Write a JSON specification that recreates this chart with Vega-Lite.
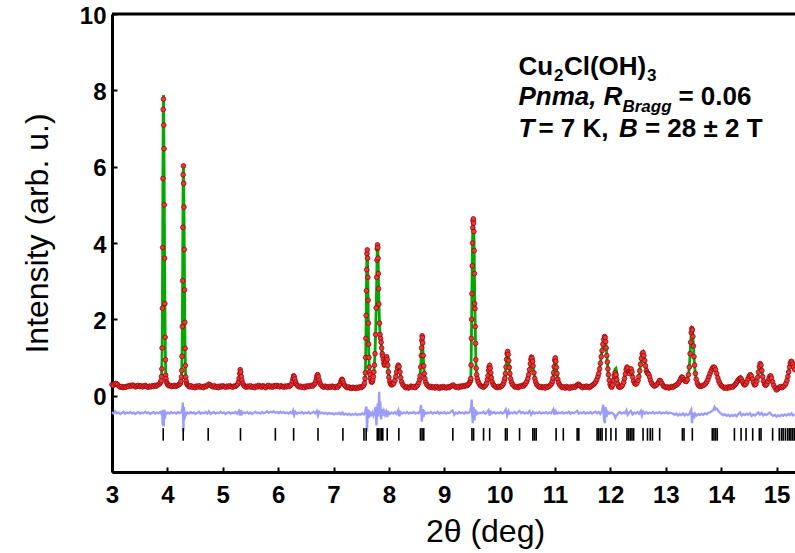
{
"$schema":"https://vega.github.io/schema/vega-lite/v6.json",
"width":683,"height":458,
"autosize":{"type":"none"},
"padding":{"left":112,"top":14,"right":0,"bottom":81},
"background":"white",
"config":{"view":{"stroke":null},"font":"Liberation Sans"},
"datasets":{
"obs":[
{"x":3.000,"o":0.29,"c":0.27},{"x":3.025,"o":0.27,"c":0.27},{"x":3.050,"o":0.31,"c":0.28},{"x":3.075,"o":0.32,"c":0.28},{"x":3.100,"o":0.29,"c":0.28},{"x":3.125,"o":0.25,"c":0.27},{"x":3.150,"o":0.22,"c":0.26},{"x":3.175,"o":0.24,"c":0.25},{"x":3.200,"o":0.21,"c":0.25},{"x":3.225,"o":0.23,"c":0.25},{"x":3.250,"o":0.22,"c":0.25},{"x":3.275,"o":0.25,"c":0.25},{"x":3.300,"o":0.24,"c":0.25},{"x":3.325,"o":0.27,"c":0.25},{"x":3.350,"o":0.25,"c":0.25},{"x":3.375,"o":0.28,"c":0.25},{"x":3.400,"o":0.26,"c":0.25},{"x":3.425,"o":0.23,"c":0.25},{"x":3.450,"o":0.25,"c":0.25},{"x":3.475,"o":0.27,"c":0.25},{"x":3.500,"o":0.24,"c":0.25},{"x":3.525,"o":0.26,"c":0.25},{"x":3.550,"o":0.23,"c":0.25},{"x":3.575,"o":0.25,"c":0.25},{"x":3.600,"o":0.27,"c":0.25},{"x":3.625,"o":0.24,"c":0.25},{"x":3.650,"o":0.22,"c":0.25},{"x":3.675,"o":0.25,"c":0.25},{"x":3.700,"o":0.23,"c":0.25},{"x":3.725,"o":0.26,"c":0.25},{"x":3.750,"o":0.24,"c":0.25},{"x":3.775,"o":0.27,"c":0.26},{"x":3.800,"o":0.25,"c":0.26},{"x":3.825,"o":0.28,"c":0.27},{"x":3.850,"o":0.30,"c":0.29},{"x":3.870,"o":0.33,"c":0.32},{"x":3.880,"o":0.36,"c":0.36},{"x":3.890,"o":0.40,"c":0.42},{"x":3.895,"o":0.50,"c":0.55},{"x":3.900,"o":0.70,"c":0.75},{"x":3.905,"o":1.25,"c":1.15},{"x":3.910,"o":2.29,"c":2.10},{"x":3.915,"o":3.88,"c":3.80},{"x":3.920,"o":5.69,"c":5.80},{"x":3.925,"o":7.50,"c":7.50},{"x":3.930,"o":7.77,"c":7.88},{"x":3.935,"o":7.09,"c":7.30},{"x":3.940,"o":6.47,"c":6.20},{"x":3.945,"o":5.00,"c":4.90},{"x":3.950,"o":3.60,"c":3.60},{"x":3.955,"o":2.41,"c":2.50},{"x":3.960,"o":1.53,"c":1.60},{"x":3.965,"o":0.94,"c":1.00},{"x":3.970,"o":0.54,"c":0.62},{"x":3.975,"o":0.45,"c":0.45},{"x":3.985,"o":0.36,"c":0.36},{"x":3.995,"o":0.32,"c":0.32},
{"x":4.010,"o":0.28,"c":0.29},{"x":4.030,"o":0.26,"c":0.27},{"x":4.050,"o":0.27,"c":0.26},{"x":4.075,"o":0.24,"c":0.26},{"x":4.100,"o":0.25,"c":0.26},{"x":4.125,"o":0.27,"c":0.26},{"x":4.150,"o":0.24,"c":0.26},{"x":4.175,"o":0.26,"c":0.26},{"x":4.200,"o":0.28,"c":0.27},{"x":4.220,"o":0.30,"c":0.29},{"x":4.235,"o":0.33,"c":0.32},{"x":4.245,"o":0.38,"c":0.37},{"x":4.255,"o":0.49,"c":0.48},{"x":4.260,"o":0.66,"c":0.70},{"x":4.265,"o":1.03,"c":1.10},{"x":4.270,"o":1.81,"c":1.80},{"x":4.275,"o":3.01,"c":3.00},{"x":4.280,"o":4.41,"c":4.40},{"x":4.285,"o":5.79,"c":5.70},{"x":4.290,"o":6.02,"c":6.04},{"x":4.295,"o":5.56,"c":5.60},{"x":4.300,"o":4.94,"c":4.90},{"x":4.305,"o":3.83,"c":3.90},{"x":4.310,"o":2.77,"c":2.80},{"x":4.315,"o":1.92,"c":1.90},{"x":4.320,"o":1.24,"c":1.20},{"x":4.325,"o":0.79,"c":0.80},{"x":4.330,"o":0.49,"c":0.55},{"x":4.340,"o":0.38,"c":0.40},{"x":4.350,"o":0.31,"c":0.33},{"x":4.365,"o":0.28,"c":0.29},{"x":4.385,"o":0.25,"c":0.27},
{"x":4.400,"o":0.23,"c":0.25},{"x":4.425,"o":0.26,"c":0.25},{"x":4.450,"o":0.22,"c":0.24},{"x":4.475,"o":0.24,"c":0.24},{"x":4.500,"o":0.21,"c":0.24},{"x":4.525,"o":0.25,"c":0.24},{"x":4.550,"o":0.23,"c":0.24},{"x":4.575,"o":0.26,"c":0.24},{"x":4.600,"o":0.22,"c":0.24},{"x":4.625,"o":0.24,"c":0.24},{"x":4.650,"o":0.21,"c":0.24},{"x":4.675,"o":0.25,"c":0.24},{"x":4.700,"o":0.24,"c":0.25},{"x":4.725,"o":0.27,"c":0.26},{"x":4.750,"o":0.30,"c":0.28},{"x":4.775,"o":0.28,"c":0.27},{"x":4.800,"o":0.25,"c":0.25},{"x":4.825,"o":0.23,"c":0.24},{"x":4.850,"o":0.26,"c":0.24},{"x":4.875,"o":0.22,"c":0.24},{"x":4.900,"o":0.24,"c":0.24},{"x":4.925,"o":0.21,"c":0.24},{"x":4.950,"o":0.25,"c":0.24},{"x":4.975,"o":0.23,"c":0.24},{"x":5.000,"o":0.26,"c":0.24},{"x":5.025,"o":0.24,"c":0.24},{"x":5.050,"o":0.22,"c":0.24},{"x":5.075,"o":0.25,"c":0.24},{"x":5.100,"o":0.23,"c":0.24},{"x":5.125,"o":0.26,"c":0.24},{"x":5.150,"o":0.24,"c":0.24},{"x":5.175,"o":0.22,"c":0.24},{"x":5.200,"o":0.25,"c":0.24},{"x":5.225,"o":0.24,"c":0.25},{"x":5.250,"o":0.27,"c":0.26},{"x":5.270,"o":0.30,"c":0.29},{"x":5.285,"o":0.36,"c":0.35},{"x":5.295,"o":0.45,"c":0.44},{"x":5.305,"o":0.58,"c":0.56},{"x":5.315,"o":0.68,"c":0.66},{"x":5.325,"o":0.62,"c":0.62},{"x":5.335,"o":0.50,"c":0.50},{"x":5.345,"o":0.40,"c":0.40},{"x":5.360,"o":0.32,"c":0.32},{"x":5.380,"o":0.27,"c":0.27},
{"x":5.400,"o":0.24,"c":0.25},{"x":5.425,"o":0.22,"c":0.24},{"x":5.450,"o":0.25,"c":0.24},{"x":5.475,"o":0.23,"c":0.24},{"x":5.500,"o":0.26,"c":0.24},{"x":5.525,"o":0.22,"c":0.24},{"x":5.550,"o":0.24,"c":0.24},{"x":5.575,"o":0.21,"c":0.24},{"x":5.600,"o":0.25,"c":0.24},{"x":5.625,"o":0.23,"c":0.24},{"x":5.650,"o":0.27,"c":0.24},{"x":5.675,"o":0.24,"c":0.24},{"x":5.700,"o":0.22,"c":0.24},{"x":5.725,"o":0.26,"c":0.24},{"x":5.750,"o":0.24,"c":0.24},{"x":5.775,"o":0.21,"c":0.24},{"x":5.800,"o":0.25,"c":0.24},{"x":5.825,"o":0.27,"c":0.24},{"x":5.850,"o":0.23,"c":0.24},{"x":5.875,"o":0.25,"c":0.24},{"x":5.900,"o":0.22,"c":0.24},{"x":5.925,"o":0.26,"c":0.24},{"x":5.950,"o":0.24,"c":0.24},{"x":5.975,"o":0.27,"c":0.25},{"x":6.000,"o":0.25,"c":0.25},{"x":6.025,"o":0.23,"c":0.24},{"x":6.050,"o":0.26,"c":0.24},{"x":6.075,"o":0.24,"c":0.24},{"x":6.100,"o":0.22,"c":0.24},{"x":6.125,"o":0.25,"c":0.24},{"x":6.150,"o":0.23,"c":0.24},{"x":6.175,"o":0.26,"c":0.24},{"x":6.200,"o":0.24,"c":0.25},{"x":6.225,"o":0.27,"c":0.27},{"x":6.245,"o":0.31,"c":0.31},{"x":6.260,"o":0.38,"c":0.38},{"x":6.270,"o":0.45,"c":0.45},{"x":6.280,"o":0.52,"c":0.52},{"x":6.290,"o":0.50,"c":0.51},{"x":6.300,"o":0.44,"c":0.44},{"x":6.315,"o":0.36,"c":0.36},{"x":6.330,"o":0.30,"c":0.30},{"x":6.350,"o":0.26,"c":0.27},{"x":6.375,"o":0.23,"c":0.25},
{"x":6.400,"o":0.25,"c":0.24},{"x":6.425,"o":0.22,"c":0.24},{"x":6.450,"o":0.24,"c":0.24},{"x":6.475,"o":0.21,"c":0.24},{"x":6.500,"o":0.25,"c":0.24},{"x":6.525,"o":0.23,"c":0.24},{"x":6.550,"o":0.26,"c":0.24},{"x":6.575,"o":0.24,"c":0.25},{"x":6.600,"o":0.27,"c":0.25},{"x":6.625,"o":0.25,"c":0.26},{"x":6.650,"o":0.29,"c":0.28},{"x":6.670,"o":0.33,"c":0.32},{"x":6.685,"o":0.40,"c":0.40},{"x":6.695,"o":0.47,"c":0.47},{"x":6.705,"o":0.53,"c":0.53},{"x":6.715,"o":0.55,"c":0.55},{"x":6.725,"o":0.50,"c":0.50},{"x":6.740,"o":0.41,"c":0.41},{"x":6.755,"o":0.33,"c":0.34},{"x":6.775,"o":0.28,"c":0.29},{"x":6.800,"o":0.24,"c":0.26},{"x":6.825,"o":0.22,"c":0.25},{"x":6.850,"o":0.25,"c":0.24},{"x":6.875,"o":0.23,"c":0.24},{"x":6.900,"o":0.21,"c":0.24},{"x":6.925,"o":0.24,"c":0.24},{"x":6.950,"o":0.22,"c":0.24},{"x":6.975,"o":0.25,"c":0.24},{"x":7.000,"o":0.23,"c":0.24},{"x":7.025,"o":0.21,"c":0.24},{"x":7.050,"o":0.24,"c":0.24},{"x":7.075,"o":0.22,"c":0.25},{"x":7.100,"o":0.27,"c":0.27},{"x":7.120,"o":0.31,"c":0.31},{"x":7.135,"o":0.37,"c":0.37},{"x":7.145,"o":0.41,"c":0.41},{"x":7.155,"o":0.43,"c":0.43},{"x":7.165,"o":0.40,"c":0.40},{"x":7.180,"o":0.33,"c":0.33},{"x":7.200,"o":0.27,"c":0.28},{"x":7.225,"o":0.23,"c":0.25},{"x":7.250,"o":0.21,"c":0.24},{"x":7.275,"o":0.23,"c":0.23},{"x":7.300,"o":0.20,"c":0.23},{"x":7.325,"o":0.19,"c":0.22},{"x":7.350,"o":0.22,"c":0.22},{"x":7.375,"o":0.20,"c":0.22},{"x":7.400,"o":0.19,"c":0.22},{"x":7.425,"o":0.22,"c":0.22},{"x":7.450,"o":0.20,"c":0.22},{"x":7.475,"o":0.23,"c":0.22},{"x":7.500,"o":0.21,"c":0.23},{"x":7.525,"o":0.24,"c":0.24},{"x":7.545,"o":0.27,"c":0.27},{"x":7.560,"o":0.33,"c":0.33},{"x":7.570,"o":0.45,"c":0.45},{"x":7.575,"o":0.60,"c":0.62},{"x":7.580,"o":1.00,"c":0.95},{"x":7.585,"o":1.50,"c":1.45},{"x":7.590,"o":2.10,"c":2.10},{"x":7.595,"o":2.75,"c":2.80},{"x":7.600,"o":3.30,"c":3.40},{"x":7.605,"o":3.72,"c":3.78},{"x":7.610,"o":3.82,"c":3.84},{"x":7.615,"o":3.60,"c":3.60},{"x":7.620,"o":3.10,"c":3.10},{"x":7.625,"o":2.50,"c":2.45},{"x":7.630,"o":1.90,"c":1.85},{"x":7.635,"o":1.35,"c":1.35},{"x":7.640,"o":1.00,"c":0.95},{"x":7.645,"o":0.75,"c":0.72},{"x":7.650,"o":0.62,"c":0.60},{"x":7.660,"o":0.55,"c":0.52},{"x":7.670,"o":0.45,"c":0.45},{"x":7.680,"o":0.38,"c":0.40},{"x":7.690,"o":0.35,"c":0.38},{"x":7.700,"o":0.37,"c":0.40},{"x":7.710,"o":0.42,"c":0.44},{"x":7.720,"o":0.50,"c":0.52},{"x":7.730,"o":0.62,"c":0.65},{"x":7.740,"o":0.80,"c":0.85},{"x":7.750,"o":1.10,"c":1.15},{"x":7.760,"o":1.60,"c":1.60},{"x":7.770,"o":2.30,"c":2.25},{"x":7.780,"o":3.10,"c":3.00},{"x":7.785,"o":3.55,"c":3.50},{"x":7.790,"o":3.85,"c":3.85},{"x":7.795,"o":3.95,"c":3.97},{"x":7.800,"o":3.88,"c":3.90},{"x":7.805,"o":3.60,"c":3.65},{"x":7.810,"o":3.20,"c":3.25},{"x":7.815,"o":2.80,"c":2.85},{"x":7.820,"o":2.40,"c":2.45},{"x":7.830,"o":1.90,"c":1.95},{"x":7.840,"o":1.60,"c":1.60},{"x":7.850,"o":1.50,"c":1.45},{"x":7.860,"o":1.40,"c":1.35},{"x":7.870,"o":1.25,"c":1.25},{"x":7.880,"o":1.10,"c":1.10},{"x":7.890,"o":1.03,"c":1.00},{"x":7.900,"o":0.95,"c":0.92},{"x":7.910,"o":0.85,"c":0.86},{"x":7.920,"o":0.80,"c":0.82},{"x":7.930,"o":0.82,"c":0.85},{"x":7.940,"o":0.90,"c":0.92},{"x":7.950,"o":0.97,"c":0.98},{"x":7.960,"o":1.02,"c":1.00},{"x":7.970,"o":0.95,"c":0.95},{"x":7.980,"o":0.80,"c":0.80},{"x":7.990,"o":0.62,"c":0.62},{"x":8.000,"o":0.48,"c":0.48},{"x":8.015,"o":0.37,"c":0.38},{"x":8.030,"o":0.31,"c":0.32},{"x":8.050,"o":0.28,"c":0.29},{"x":8.070,"o":0.30,"c":0.30},{"x":8.090,"o":0.33,"c":0.33},{"x":8.110,"o":0.40,"c":0.40},{"x":8.125,"o":0.50,"c":0.50},{"x":8.140,"o":0.62,"c":0.63},{"x":8.155,"o":0.74,"c":0.74},{"x":8.170,"o":0.80,"c":0.80},{"x":8.185,"o":0.76,"c":0.77},{"x":8.200,"o":0.62,"c":0.63},{"x":8.215,"o":0.47,"c":0.48},{"x":8.230,"o":0.36,"c":0.37},{"x":8.250,"o":0.29,"c":0.30},{"x":8.275,"o":0.25,"c":0.26},
{"x":8.300,"o":0.21,"c":0.24},{"x":8.325,"o":0.23,"c":0.23},{"x":8.350,"o":0.20,"c":0.23},{"x":8.375,"o":0.22,"c":0.23},{"x":8.400,"o":0.25,"c":0.23},{"x":8.425,"o":0.22,"c":0.23},{"x":8.450,"o":0.24,"c":0.23},{"x":8.475,"o":0.21,"c":0.24},{"x":8.500,"o":0.25,"c":0.25},{"x":8.520,"o":0.28,"c":0.28},{"x":8.540,"o":0.34,"c":0.34},{"x":8.555,"o":0.42,"c":0.43},{"x":8.565,"o":0.52,"c":0.55},{"x":8.575,"o":0.75,"c":0.75},{"x":8.585,"o":1.05,"c":1.05},{"x":8.590,"o":1.25,"c":1.25},{"x":8.595,"o":1.45,"c":1.45},{"x":8.600,"o":1.57,"c":1.56},{"x":8.605,"o":1.52,"c":1.52},{"x":8.610,"o":1.38,"c":1.38},{"x":8.620,"o":1.05,"c":1.05},{"x":8.630,"o":0.78,"c":0.78},{"x":8.640,"o":0.58,"c":0.57},{"x":8.650,"o":0.45,"c":0.44},{"x":8.665,"o":0.35,"c":0.35},{"x":8.685,"o":0.29,"c":0.29},{"x":8.710,"o":0.25,"c":0.26},{"x":8.735,"o":0.22,"c":0.24},{"x":8.760,"o":0.24,"c":0.23},{"x":8.785,"o":0.21,"c":0.23},{"x":8.810,"o":0.23,"c":0.23},{"x":8.835,"o":0.20,"c":0.23},{"x":8.860,"o":0.24,"c":0.23},{"x":8.885,"o":0.22,"c":0.23},{"x":8.910,"o":0.19,"c":0.23},{"x":8.935,"o":0.23,"c":0.23},{"x":8.960,"o":0.21,"c":0.23},{"x":8.985,"o":0.24,"c":0.23},{"x":9.010,"o":0.22,"c":0.23},{"x":9.035,"o":0.20,"c":0.23},{"x":9.060,"o":0.23,"c":0.23},{"x":9.085,"o":0.21,"c":0.23},{"x":9.110,"o":0.24,"c":0.24},{"x":9.135,"o":0.26,"c":0.25},{"x":9.160,"o":0.28,"c":0.26},{"x":9.185,"o":0.25,"c":0.25},{"x":9.210,"o":0.22,"c":0.24},{"x":9.235,"o":0.24,"c":0.24},{"x":9.260,"o":0.21,"c":0.24},{"x":9.285,"o":0.25,"c":0.24},{"x":9.310,"o":0.23,"c":0.24},{"x":9.335,"o":0.26,"c":0.25},{"x":9.360,"o":0.24,"c":0.25},{"x":9.385,"o":0.27,"c":0.26},{"x":9.410,"o":0.26,"c":0.27},{"x":9.430,"o":0.29,"c":0.29},{"x":9.450,"o":0.32,"c":0.32},{"x":9.465,"o":0.36,"c":0.36},{"x":9.475,"o":0.40,"c":0.42},{"x":9.480,"o":0.45,"c":0.50},{"x":9.485,"o":0.80,"c":0.80},{"x":9.490,"o":1.50,"c":1.40},{"x":9.495,"o":2.00,"c":2.10},{"x":9.500,"o":2.67,"c":2.80},{"x":9.505,"o":3.40,"c":3.45},{"x":9.510,"o":4.00,"c":4.00},{"x":9.515,"o":4.40,"c":4.38},{"x":9.520,"o":4.58,"c":4.60},{"x":9.525,"o":4.63,"c":4.65},{"x":9.530,"o":4.52,"c":4.55},{"x":9.535,"o":4.30,"c":4.30},{"x":9.540,"o":3.80,"c":3.85},{"x":9.545,"o":3.20,"c":3.20},{"x":9.550,"o":2.41,"c":2.50},{"x":9.555,"o":2.28,"c":2.20},{"x":9.560,"o":1.81,"c":1.80},{"x":9.565,"o":1.37,"c":1.40},{"x":9.570,"o":0.94,"c":1.00},{"x":9.575,"o":0.72,"c":0.75},{"x":9.585,"o":0.55,"c":0.55},{"x":9.595,"o":0.45,"c":0.45},{"x":9.610,"o":0.37,"c":0.37},{"x":9.630,"o":0.31,"c":0.31},{"x":9.655,"o":0.26,"c":0.27},{"x":9.680,"o":0.24,"c":0.25},{"x":9.705,"o":0.22,"c":0.24},{"x":9.730,"o":0.25,"c":0.25},{"x":9.750,"o":0.28,"c":0.28},{"x":9.765,"o":0.33,"c":0.33},{"x":9.780,"o":0.42,"c":0.42},{"x":9.790,"o":0.52,"c":0.53},{"x":9.800,"o":0.66,"c":0.65},{"x":9.810,"o":0.75,"c":0.74},{"x":9.820,"o":0.79,"c":0.78},{"x":9.830,"o":0.72,"c":0.72},{"x":9.840,"o":0.60,"c":0.60},{"x":9.850,"o":0.47,"c":0.48},{"x":9.865,"o":0.36,"c":0.37},{"x":9.885,"o":0.29,"c":0.30},{"x":9.905,"o":0.26,"c":0.27},{"x":9.930,"o":0.23,"c":0.25},{"x":9.955,"o":0.21,"c":0.24},{"x":9.980,"o":0.24,"c":0.24},{"x":10.005,"o":0.22,"c":0.24},{"x":10.030,"o":0.25,"c":0.25},{"x":10.050,"o":0.27,"c":0.27},{"x":10.070,"o":0.32,"c":0.32},{"x":10.085,"o":0.39,"c":0.39},{"x":10.095,"o":0.46,"c":0.46},{"x":10.105,"o":0.58,"c":0.58},{"x":10.115,"o":0.75,"c":0.75},{"x":10.125,"o":0.95,"c":0.95},{"x":10.135,"o":1.10,"c":1.10},{"x":10.145,"o":1.16,"c":1.15},{"x":10.155,"o":1.08,"c":1.08},{"x":10.165,"o":0.92,"c":0.92},{"x":10.175,"o":0.74,"c":0.74},{"x":10.185,"o":0.58,"c":0.58},{"x":10.200,"o":0.44,"c":0.44},{"x":10.215,"o":0.35,"c":0.35},{"x":10.235,"o":0.29,"c":0.30},{"x":10.260,"o":0.25,"c":0.27},{"x":10.285,"o":0.22,"c":0.25},{"x":10.310,"o":0.24,"c":0.24},{"x":10.335,"o":0.21,"c":0.24},{"x":10.360,"o":0.25,"c":0.25},{"x":10.385,"o":0.24,"c":0.25},{"x":10.410,"o":0.27,"c":0.26},{"x":10.430,"o":0.25,"c":0.27},{"x":10.450,"o":0.29,"c":0.29},{"x":10.470,"o":0.32,"c":0.32},{"x":10.490,"o":0.37,"c":0.37},{"x":10.510,"o":0.45,"c":0.45},{"x":10.525,"o":0.55,"c":0.55},{"x":10.540,"o":0.68,"c":0.68},{"x":10.555,"o":0.84,"c":0.84},{"x":10.565,"o":0.95,"c":0.95},{"x":10.575,"o":1.01,"c":1.01},{"x":10.585,"o":0.98,"c":0.99},{"x":10.595,"o":0.90,"c":0.90},{"x":10.605,"o":0.78,"c":0.78},{"x":10.620,"o":0.60,"c":0.60},{"x":10.635,"o":0.45,"c":0.45},{"x":10.650,"o":0.36,"c":0.36},{"x":10.670,"o":0.29,"c":0.30},{"x":10.695,"o":0.25,"c":0.26},{"x":10.720,"o":0.22,"c":0.24},{"x":10.745,"o":0.24,"c":0.24},{"x":10.770,"o":0.21,"c":0.24},{"x":10.795,"o":0.23,"c":0.23},{"x":10.820,"o":0.20,"c":0.23},{"x":10.845,"o":0.24,"c":0.23},{"x":10.870,"o":0.22,"c":0.24},{"x":10.895,"o":0.25,"c":0.25},{"x":10.920,"o":0.28,"c":0.27},{"x":10.940,"o":0.32,"c":0.31},{"x":10.955,"o":0.38,"c":0.38},{"x":10.965,"o":0.46,"c":0.47},{"x":10.975,"o":0.60,"c":0.60},{"x":10.985,"o":0.76,"c":0.76},{"x":10.995,"o":0.93,"c":0.92},{"x":11.005,"o":0.99,"c":0.98},{"x":11.015,"o":0.90,"c":0.91},{"x":11.025,"o":0.74,"c":0.76},{"x":11.035,"o":0.58,"c":0.60},{"x":11.050,"o":0.43,"c":0.43},{"x":11.065,"o":0.34,"c":0.34},{"x":11.085,"o":0.28,"c":0.28},{"x":11.110,"o":0.24,"c":0.25},{"x":11.135,"o":0.21,"c":0.24},{"x":11.160,"o":0.23,"c":0.23},{"x":11.185,"o":0.20,"c":0.23},{"x":11.210,"o":0.24,"c":0.23},{"x":11.235,"o":0.22,"c":0.23},{"x":11.260,"o":0.19,"c":0.23},{"x":11.285,"o":0.23,"c":0.23},{"x":11.310,"o":0.21,"c":0.23},{"x":11.335,"o":0.24,"c":0.24},{"x":11.360,"o":0.22,"c":0.24},{"x":11.385,"o":0.26,"c":0.25},{"x":11.405,"o":0.28,"c":0.27},{"x":11.425,"o":0.30,"c":0.28},{"x":11.445,"o":0.27,"c":0.27},{"x":11.470,"o":0.24,"c":0.25},{"x":11.495,"o":0.21,"c":0.24},{"x":11.520,"o":0.24,"c":0.24},{"x":11.545,"o":0.22,"c":0.24},{"x":11.570,"o":0.25,"c":0.24},{"x":11.595,"o":0.23,"c":0.24},{"x":11.620,"o":0.21,"c":0.24},{"x":11.645,"o":0.24,"c":0.25},{"x":11.670,"o":0.27,"c":0.26},{"x":11.695,"o":0.29,"c":0.28},{"x":11.715,"o":0.32,"c":0.31},{"x":11.735,"o":0.36,"c":0.35},{"x":11.755,"o":0.42,"c":0.42},{"x":11.775,"o":0.50,"c":0.50},{"x":11.790,"o":0.58,"c":0.59},{"x":11.805,"o":0.70,"c":0.70},{"x":11.820,"o":0.85,"c":0.86},{"x":11.835,"o":1.02,"c":1.02},{"x":11.850,"o":1.18,"c":1.18},{"x":11.865,"o":1.35,"c":1.34},{"x":11.880,"o":1.47,"c":1.46},{"x":11.895,"o":1.55,"c":1.53},{"x":11.905,"o":1.52,"c":1.52},{"x":11.915,"o":1.42,"c":1.42},{"x":11.925,"o":1.25,"c":1.26},{"x":11.935,"o":1.05,"c":1.06},{"x":11.945,"o":0.88,"c":0.86},{"x":11.955,"o":0.70,"c":0.70},{"x":11.965,"o":0.55,"c":0.56},{"x":11.980,"o":0.40,"c":0.42},{"x":11.995,"o":0.30,"c":0.32},{"x":12.010,"o":0.24,"c":0.27},{"x":12.025,"o":0.22,"c":0.27},{"x":12.040,"o":0.28,"c":0.33},{"x":12.055,"o":0.40,"c":0.45},{"x":12.070,"o":0.52,"c":0.60},{"x":12.085,"o":0.60,"c":0.70},{"x":12.100,"o":0.55,"c":0.72},{"x":12.115,"o":0.42,"c":0.60},{"x":12.130,"o":0.30,"c":0.42},{"x":12.150,"o":0.23,"c":0.30},{"x":12.175,"o":0.22,"c":0.25},{"x":12.200,"o":0.24,"c":0.25},{"x":12.220,"o":0.28,"c":0.28},{"x":12.240,"o":0.35,"c":0.35},{"x":12.255,"o":0.45,"c":0.45},{"x":12.270,"o":0.57,"c":0.57},{"x":12.285,"o":0.68,"c":0.68},{"x":12.300,"o":0.75,"c":0.74},{"x":12.315,"o":0.72,"c":0.72},{"x":12.330,"o":0.62,"c":0.64},{"x":12.345,"o":0.58,"c":0.60},{"x":12.360,"o":0.65,"c":0.64},{"x":12.375,"o":0.70,"c":0.68},{"x":12.390,"o":0.62,"c":0.62},{"x":12.405,"o":0.48,"c":0.50},{"x":12.420,"o":0.38,"c":0.40},{"x":12.440,"o":0.32,"c":0.33},{"x":12.460,"o":0.30,"c":0.31},{"x":12.480,"o":0.33,"c":0.33},{"x":12.500,"o":0.40,"c":0.40},{"x":12.515,"o":0.50,"c":0.50},{"x":12.530,"o":0.65,"c":0.65},{"x":12.545,"o":0.82,"c":0.82},{"x":12.560,"o":0.98,"c":0.98},{"x":12.575,"o":1.10,"c":1.10},{"x":12.590,"o":1.13,"c":1.14},{"x":12.605,"o":1.05,"c":1.06},{"x":12.620,"o":0.92,"c":0.92},{"x":12.635,"o":0.78,"c":0.78},{"x":12.650,"o":0.66,"c":0.66},{"x":12.665,"o":0.60,"c":0.60},{"x":12.680,"o":0.58,"c":0.57},{"x":12.695,"o":0.55,"c":0.53},{"x":12.710,"o":0.48,"c":0.48},{"x":12.725,"o":0.40,"c":0.41},{"x":12.745,"o":0.33,"c":0.34},{"x":12.770,"o":0.28,"c":0.29},{"x":12.795,"o":0.25,"c":0.27},{"x":12.820,"o":0.27,"c":0.27},{"x":12.845,"o":0.30,"c":0.30},{"x":12.870,"o":0.35,"c":0.34},{"x":12.890,"o":0.40,"c":0.38},{"x":12.910,"o":0.38,"c":0.37},{"x":12.930,"o":0.32,"c":0.32},{"x":12.955,"o":0.26,"c":0.27},{"x":12.980,"o":0.23,"c":0.25},{"x":13.005,"o":0.21,"c":0.24},{"x":13.030,"o":0.23,"c":0.23},{"x":13.055,"o":0.20,"c":0.23},{"x":13.080,"o":0.22,"c":0.23},{"x":13.105,"o":0.24,"c":0.24},{"x":13.130,"o":0.22,"c":0.24},{"x":13.155,"o":0.25,"c":0.25},{"x":13.180,"o":0.27,"c":0.26},{"x":13.205,"o":0.29,"c":0.28},{"x":13.230,"o":0.33,"c":0.32},{"x":13.250,"o":0.38,"c":0.37},{"x":13.270,"o":0.44,"c":0.43},{"x":13.290,"o":0.49,"c":0.48},{"x":13.310,"o":0.47,"c":0.47},{"x":13.330,"o":0.42,"c":0.42},{"x":13.350,"o":0.38,"c":0.38},{"x":13.370,"o":0.37,"c":0.37},{"x":13.390,"o":0.42,"c":0.42},{"x":13.410,"o":0.55,"c":0.55},{"x":13.425,"o":0.75,"c":0.75},{"x":13.440,"o":1.10,"c":1.10},{"x":13.450,"o":1.40,"c":1.40},{"x":13.460,"o":1.65,"c":1.62},{"x":13.470,"o":1.76,"c":1.75},{"x":13.480,"o":1.72,"c":1.72},{"x":13.490,"o":1.55,"c":1.55},{"x":13.500,"o":1.30,"c":1.30},{"x":13.510,"o":1.02,"c":1.02},{"x":13.520,"o":0.80,"c":0.80},{"x":13.535,"o":0.58,"c":0.58},{"x":13.550,"o":0.43,"c":0.43},{"x":13.570,"o":0.33,"c":0.34},{"x":13.590,"o":0.27,"c":0.28},{"x":13.615,"o":0.24,"c":0.26},{"x":13.640,"o":0.25,"c":0.26},{"x":13.665,"o":0.26,"c":0.27},{"x":13.690,"o":0.28,"c":0.28},{"x":13.715,"o":0.31,"c":0.31},{"x":13.740,"o":0.36,"c":0.36},{"x":13.760,"o":0.42,"c":0.42},{"x":13.780,"o":0.50,"c":0.50},{"x":13.800,"o":0.58,"c":0.58},{"x":13.820,"o":0.65,"c":0.65},{"x":13.840,"o":0.71,"c":0.71},{"x":13.860,"o":0.75,"c":0.75},{"x":13.880,"o":0.74,"c":0.74},{"x":13.900,"o":0.68,"c":0.69},{"x":13.920,"o":0.58,"c":0.60},{"x":13.940,"o":0.47,"c":0.49},{"x":13.960,"o":0.38,"c":0.40},{"x":13.980,"o":0.31,"c":0.33},{"x":14.005,"o":0.26,"c":0.27},{"x":14.030,"o":0.23,"c":0.24},{"x":14.055,"o":0.20,"c":0.23},{"x":14.080,"o":0.22,"c":0.23},{"x":14.105,"o":0.19,"c":0.23},{"x":14.130,"o":0.23,"c":0.23},{"x":14.155,"o":0.21,"c":0.23},{"x":14.180,"o":0.24,"c":0.24},{"x":14.205,"o":0.22,"c":0.24},{"x":14.230,"o":0.26,"c":0.26},{"x":14.255,"o":0.29,"c":0.29},{"x":14.275,"o":0.33,"c":0.33},{"x":14.295,"o":0.38,"c":0.38},{"x":14.315,"o":0.42,"c":0.43},{"x":14.335,"o":0.45,"c":0.48},{"x":14.350,"o":0.46,"c":0.50},{"x":14.365,"o":0.43,"c":0.47},{"x":14.385,"o":0.37,"c":0.40},{"x":14.405,"o":0.31,"c":0.33},{"x":14.425,"o":0.28,"c":0.30},{"x":14.445,"o":0.30,"c":0.31},{"x":14.465,"o":0.36,"c":0.36},{"x":14.485,"o":0.44,"c":0.44},{"x":14.505,"o":0.51,"c":0.51},{"x":14.525,"o":0.55,"c":0.55},{"x":14.545,"o":0.52,"c":0.52},{"x":14.565,"o":0.43,"c":0.43},{"x":14.585,"o":0.34,"c":0.35},{"x":14.605,"o":0.28,"c":0.30},{"x":14.625,"o":0.30,"c":0.31},{"x":14.645,"o":0.38,"c":0.38},{"x":14.660,"o":0.48,"c":0.48},{"x":14.675,"o":0.62,"c":0.62},{"x":14.690,"o":0.76,"c":0.76},{"x":14.705,"o":0.84,"c":0.83},{"x":14.720,"o":0.80,"c":0.80},{"x":14.735,"o":0.66,"c":0.66},{"x":14.750,"o":0.50,"c":0.51},{"x":14.765,"o":0.38,"c":0.40},{"x":14.785,"o":0.30,"c":0.31},{"x":14.805,"o":0.27,"c":0.28},{"x":14.825,"o":0.30,"c":0.30},{"x":14.845,"o":0.37,"c":0.37},{"x":14.865,"o":0.45,"c":0.45},{"x":14.880,"o":0.51,"c":0.51},{"x":14.895,"o":0.52,"c":0.52},{"x":14.910,"o":0.46,"c":0.46},{"x":14.930,"o":0.36,"c":0.36},{"x":14.950,"o":0.27,"c":0.28},{"x":14.975,"o":0.20,"c":0.23},{"x":15.000,"o":0.15,"c":0.21},{"x":15.025,"o":0.18,"c":0.21},{"x":15.050,"o":0.22,"c":0.22},{"x":15.075,"o":0.24,"c":0.23},{"x":15.100,"o":0.21,"c":0.23},{"x":15.125,"o":0.24,"c":0.24},{"x":15.150,"o":0.27,"c":0.27},{"x":15.170,"o":0.32,"c":0.32},{"x":15.190,"o":0.40,"c":0.40},{"x":15.205,"o":0.50,"c":0.50},{"x":15.220,"o":0.62,"c":0.62},{"x":15.235,"o":0.75,"c":0.75},{"x":15.250,"o":0.85,"c":0.85},{"x":15.265,"o":0.90,"c":0.90},{"x":15.280,"o":0.88,"c":0.88},{"x":15.295,"o":0.82,"c":0.82},{"x":15.310,"o":0.75,"c":0.75},{"x":15.330,"o":0.68,"c":0.68}
],
"diff":[
{"x":3.00,"d":-0.43},{"x":3.03,"d":-0.47},{"x":3.06,"d":-0.41},{"x":3.09,"d":-0.46},{"x":3.12,"d":-0.44},{"x":3.15,"d":-0.48},{"x":3.18,"d":-0.45},{"x":3.21,"d":-0.42},{"x":3.24,"d":-0.47},{"x":3.27,"d":-0.44},{"x":3.30,"d":-0.46},{"x":3.33,"d":-0.43},{"x":3.36,"d":-0.47},{"x":3.39,"d":-0.44},{"x":3.42,"d":-0.48},{"x":3.45,"d":-0.45},{"x":3.48,"d":-0.43},{"x":3.51,"d":-0.47},{"x":3.54,"d":-0.44},{"x":3.57,"d":-0.46},{"x":3.60,"d":-0.42},{"x":3.63,"d":-0.46},{"x":3.66,"d":-0.44},{"x":3.69,"d":-0.48},{"x":3.72,"d":-0.45},{"x":3.75,"d":-0.43},{"x":3.78,"d":-0.47},{"x":3.81,"d":-0.44},{"x":3.84,"d":-0.46},{"x":3.87,"d":-0.43},{"x":3.89,"d":-0.47},{"x":3.905,"d":-0.40},{"x":3.915,"d":-0.78},{"x":3.925,"d":-0.37},{"x":3.935,"d":-0.81},{"x":3.945,"d":-0.42},{"x":3.955,"d":-0.60},{"x":3.965,"d":-0.44},{"x":3.98,"d":-0.48},{"x":4.01,"d":-0.44},{"x":4.04,"d":-0.47},{"x":4.07,"d":-0.43},{"x":4.10,"d":-0.46},{"x":4.13,"d":-0.44},{"x":4.16,"d":-0.47},{"x":4.19,"d":-0.43},{"x":4.22,"d":-0.46},{"x":4.25,"d":-0.44},{"x":4.27,"d":-0.35},{"x":4.28,"d":-0.18},{"x":4.29,"d":-0.94},{"x":4.30,"d":-0.30},{"x":4.31,"d":-0.62},{"x":4.32,"d":-0.42},{"x":4.335,"d":-0.50},{"x":4.36,"d":-0.44},{"x":4.39,"d":-0.47},{"x":4.42,"d":-0.43},{"x":4.45,"d":-0.46},{"x":4.48,"d":-0.44},{"x":4.51,"d":-0.48},{"x":4.54,"d":-0.45},{"x":4.57,"d":-0.42},{"x":4.60,"d":-0.47},{"x":4.63,"d":-0.44},{"x":4.66,"d":-0.46},{"x":4.69,"d":-0.43},{"x":4.72,"d":-0.47},{"x":4.75,"d":-0.41},{"x":4.78,"d":-0.48},{"x":4.81,"d":-0.45},{"x":4.84,"d":-0.43},{"x":4.87,"d":-0.47},{"x":4.90,"d":-0.44},{"x":4.93,"d":-0.46},{"x":4.96,"d":-0.42},{"x":4.99,"d":-0.46},{"x":5.02,"d":-0.44},{"x":5.05,"d":-0.48},{"x":5.08,"d":-0.45},{"x":5.11,"d":-0.43},{"x":5.14,"d":-0.47},{"x":5.17,"d":-0.44},{"x":5.20,"d":-0.46},{"x":5.23,"d":-0.43},{"x":5.26,"d":-0.47},{"x":5.29,"d":-0.40},{"x":5.31,"d":-0.52},{"x":5.33,"d":-0.38},{"x":5.35,"d":-0.48},{"x":5.38,"d":-0.44},{"x":5.41,"d":-0.46},{"x":5.44,"d":-0.43},{"x":5.47,"d":-0.47},{"x":5.50,"d":-0.44},{"x":5.53,"d":-0.48},{"x":5.56,"d":-0.45},{"x":5.59,"d":-0.42},{"x":5.62,"d":-0.46},{"x":5.65,"d":-0.44},{"x":5.68,"d":-0.47},{"x":5.71,"d":-0.43},{"x":5.74,"d":-0.46},{"x":5.77,"d":-0.44},{"x":5.80,"d":-0.41},{"x":5.83,"d":-0.45},{"x":5.86,"d":-0.42},{"x":5.89,"d":-0.44},{"x":5.92,"d":-0.41},{"x":5.95,"d":-0.45},{"x":5.98,"d":-0.43},{"x":6.01,"d":-0.46},{"x":6.04,"d":-0.42},{"x":6.07,"d":-0.45},{"x":6.10,"d":-0.43},{"x":6.13,"d":-0.46},{"x":6.16,"d":-0.44},{"x":6.19,"d":-0.47},{"x":6.22,"d":-0.43},{"x":6.25,"d":-0.46},{"x":6.27,"d":-0.39},{"x":6.29,"d":-0.51},{"x":6.31,"d":-0.42},{"x":6.34,"d":-0.47},{"x":6.37,"d":-0.44},{"x":6.40,"d":-0.46},{"x":6.43,"d":-0.43},{"x":6.46,"d":-0.47},{"x":6.49,"d":-0.44},{"x":6.52,"d":-0.46},{"x":6.55,"d":-0.43},{"x":6.58,"d":-0.47},{"x":6.61,"d":-0.45},{"x":6.64,"d":-0.42},{"x":6.67,"d":-0.46},{"x":6.70,"d":-0.40},{"x":6.72,"d":-0.52},{"x":6.74,"d":-0.42},{"x":6.77,"d":-0.46},{"x":6.80,"d":-0.44},{"x":6.83,"d":-0.47},{"x":6.86,"d":-0.45},{"x":6.89,"d":-0.48},{"x":6.92,"d":-0.45},{"x":6.95,"d":-0.48},{"x":6.98,"d":-0.46},{"x":7.01,"d":-0.49},{"x":7.04,"d":-0.46},{"x":7.07,"d":-0.48},{"x":7.10,"d":-0.45},{"x":7.13,"d":-0.49},{"x":7.16,"d":-0.44},{"x":7.19,"d":-0.50},{"x":7.22,"d":-0.47},{"x":7.25,"d":-0.50},{"x":7.28,"d":-0.47},{"x":7.31,"d":-0.51},{"x":7.34,"d":-0.48},{"x":7.37,"d":-0.50},{"x":7.40,"d":-0.47},{"x":7.43,"d":-0.51},{"x":7.46,"d":-0.48},{"x":7.49,"d":-0.50},{"x":7.52,"d":-0.46},{"x":7.55,"d":-0.49},{"x":7.57,"d":-0.45},{"x":7.585,"d":-0.32},{"x":7.595,"d":-0.29},{"x":7.605,"d":-0.94},{"x":7.615,"d":-0.55},{"x":7.625,"d":-0.36},{"x":7.64,"d":-0.58},{"x":7.66,"d":-0.45},{"x":7.68,"d":-0.50},{"x":7.70,"d":-0.44},{"x":7.72,"d":-0.52},{"x":7.74,"d":-0.42},{"x":7.76,"d":-0.30},{"x":7.775,"d":-0.78},{"x":7.79,"d":-0.35},{"x":7.80,"d":-0.20},{"x":7.81,"d":-0.55},{"x":7.825,"d":0.10},{"x":7.835,"d":-0.48},{"x":7.845,"d":-0.15},{"x":7.86,"d":-0.62},{"x":7.875,"d":-0.35},{"x":7.89,"d":-0.52},{"x":7.91,"d":-0.40},{"x":7.93,"d":-0.50},{"x":7.95,"d":-0.42},{"x":7.97,"d":-0.56},{"x":7.99,"d":-0.43},{"x":8.02,"d":-0.48},{"x":8.05,"d":-0.44},{"x":8.08,"d":-0.47},{"x":8.11,"d":-0.43},{"x":8.14,"d":-0.48},{"x":8.17,"d":-0.38},{"x":8.19,"d":-0.54},{"x":8.21,"d":-0.43},{"x":8.24,"d":-0.47},{"x":8.27,"d":-0.44},{"x":8.30,"d":-0.46},{"x":8.33,"d":-0.43},{"x":8.36,"d":-0.47},{"x":8.39,"d":-0.44},{"x":8.42,"d":-0.46},{"x":8.45,"d":-0.43},{"x":8.48,"d":-0.47},{"x":8.51,"d":-0.44},{"x":8.54,"d":-0.46},{"x":8.565,"d":-0.40},{"x":8.58,"d":-0.24},{"x":8.595,"d":-0.68},{"x":8.61,"d":-0.35},{"x":8.625,"d":-0.56},{"x":8.64,"d":-0.42},{"x":8.67,"d":-0.47},{"x":8.70,"d":-0.44},{"x":8.73,"d":-0.46},{"x":8.76,"d":-0.43},{"x":8.79,"d":-0.47},{"x":8.82,"d":-0.44},{"x":8.85,"d":-0.46},{"x":8.88,"d":-0.42},{"x":8.91,"d":-0.47},{"x":8.94,"d":-0.44},{"x":8.97,"d":-0.46},{"x":9.00,"d":-0.43},{"x":9.03,"d":-0.47},{"x":9.06,"d":-0.44},{"x":9.09,"d":-0.46},{"x":9.12,"d":-0.42},{"x":9.15,"d":-0.39},{"x":9.18,"d":-0.50},{"x":9.21,"d":-0.44},{"x":9.24,"d":-0.47},{"x":9.27,"d":-0.43},{"x":9.30,"d":-0.46},{"x":9.33,"d":-0.44},{"x":9.36,"d":-0.47},{"x":9.39,"d":-0.43},{"x":9.42,"d":-0.46},{"x":9.45,"d":-0.44},{"x":9.47,"d":-0.40},{"x":9.485,"d":-0.30},{"x":9.495,"d":-0.10},{"x":9.505,"d":-0.52},{"x":9.515,"d":-0.72},{"x":9.53,"d":-0.30},{"x":9.545,"d":-0.65},{"x":9.56,"d":-0.36},{"x":9.575,"d":-0.52},{"x":9.59,"d":-0.43},{"x":9.62,"d":-0.47},{"x":9.65,"d":-0.44},{"x":9.68,"d":-0.46},{"x":9.71,"d":-0.42},{"x":9.74,"d":-0.47},{"x":9.77,"d":-0.44},{"x":9.80,"d":-0.38},{"x":9.82,"d":-0.52},{"x":9.84,"d":-0.42},{"x":9.87,"d":-0.46},{"x":9.90,"d":-0.43},{"x":9.93,"d":-0.47},{"x":9.96,"d":-0.44},{"x":9.99,"d":-0.46},{"x":10.02,"d":-0.43},{"x":10.05,"d":-0.47},{"x":10.08,"d":-0.44},{"x":10.11,"d":-0.36},{"x":10.135,"d":-0.52},{"x":10.16,"d":-0.40},{"x":10.18,"d":-0.47},{"x":10.21,"d":-0.44},{"x":10.24,"d":-0.46},{"x":10.27,"d":-0.43},{"x":10.30,"d":-0.47},{"x":10.33,"d":-0.44},{"x":10.36,"d":-0.40},{"x":10.39,"d":-0.46},{"x":10.42,"d":-0.43},{"x":10.45,"d":-0.47},{"x":10.48,"d":-0.44},{"x":10.51,"d":-0.46},{"x":10.54,"d":-0.40},{"x":10.57,"d":-0.50},{"x":10.60,"d":-0.42},{"x":10.63,"d":-0.47},{"x":10.66,"d":-0.44},{"x":10.69,"d":-0.46},{"x":10.72,"d":-0.43},{"x":10.75,"d":-0.47},{"x":10.78,"d":-0.44},{"x":10.81,"d":-0.46},{"x":10.84,"d":-0.43},{"x":10.87,"d":-0.47},{"x":10.90,"d":-0.44},{"x":10.93,"d":-0.46},{"x":10.97,"d":-0.36},{"x":10.99,"d":-0.50},{"x":11.01,"d":-0.40},{"x":11.04,"d":-0.47},{"x":11.07,"d":-0.44},{"x":11.10,"d":-0.46},{"x":11.13,"d":-0.43},{"x":11.16,"d":-0.47},{"x":11.19,"d":-0.44},{"x":11.22,"d":-0.46},{"x":11.25,"d":-0.42},{"x":11.28,"d":-0.47},{"x":11.31,"d":-0.44},{"x":11.34,"d":-0.46},{"x":11.37,"d":-0.43},{"x":11.40,"d":-0.40},{"x":11.43,"d":-0.47},{"x":11.46,"d":-0.44},{"x":11.49,"d":-0.46},{"x":11.52,"d":-0.43},{"x":11.55,"d":-0.47},{"x":11.58,"d":-0.44},{"x":11.61,"d":-0.46},{"x":11.64,"d":-0.43},{"x":11.67,"d":-0.47},{"x":11.70,"d":-0.44},{"x":11.73,"d":-0.42},{"x":11.76,"d":-0.46},{"x":11.79,"d":-0.43},{"x":11.82,"d":-0.48},{"x":11.85,"d":-0.40},{"x":11.87,"d":-0.24},{"x":11.885,"d":-0.62},{"x":11.90,"d":-0.72},{"x":11.915,"d":-0.30},{"x":11.93,"d":-0.55},{"x":11.95,"d":-0.42},{"x":11.98,"d":-0.47},{"x":12.01,"d":-0.44},{"x":12.04,"d":-0.46},{"x":12.07,"d":-0.50},{"x":12.09,"d":-0.58},{"x":12.11,"d":-0.52},{"x":12.14,"d":-0.46},{"x":12.17,"d":-0.43},{"x":12.20,"d":-0.47},{"x":12.23,"d":-0.44},{"x":12.26,"d":-0.46},{"x":12.29,"d":-0.38},{"x":12.31,"d":-0.50},{"x":12.34,"d":-0.44},{"x":12.37,"d":-0.40},{"x":12.40,"d":-0.49},{"x":12.43,"d":-0.44},{"x":12.46,"d":-0.47},{"x":12.49,"d":-0.43},{"x":12.52,"d":-0.47},{"x":12.55,"d":-0.40},{"x":12.57,"d":-0.52},{"x":12.59,"d":-0.42},{"x":12.62,"d":-0.47},{"x":12.65,"d":-0.43},{"x":12.68,"d":-0.47},{"x":12.71,"d":-0.44},{"x":12.74,"d":-0.46},{"x":12.77,"d":-0.43},{"x":12.80,"d":-0.47},{"x":12.83,"d":-0.44},{"x":12.86,"d":-0.46},{"x":12.89,"d":-0.43},{"x":12.92,"d":-0.47},{"x":12.95,"d":-0.44},{"x":12.98,"d":-0.46},{"x":13.01,"d":-0.43},{"x":13.04,"d":-0.47},{"x":13.07,"d":-0.44},{"x":13.10,"d":-0.46},{"x":13.13,"d":-0.47},{"x":13.16,"d":-0.50},{"x":13.19,"d":-0.47},{"x":13.22,"d":-0.52},{"x":13.25,"d":-0.48},{"x":13.28,"d":-0.51},{"x":13.31,"d":-0.46},{"x":13.34,"d":-0.52},{"x":13.37,"d":-0.48},{"x":13.40,"d":-0.51},{"x":13.43,"d":-0.47},{"x":13.45,"d":-0.40},{"x":13.46,"d":-0.37},{"x":13.475,"d":-0.72},{"x":13.49,"d":-0.45},{"x":13.51,"d":-0.60},{"x":13.53,"d":-0.47},{"x":13.56,"d":-0.52},{"x":13.59,"d":-0.48},{"x":13.62,"d":-0.51},{"x":13.65,"d":-0.47},{"x":13.68,"d":-0.50},{"x":13.71,"d":-0.46},{"x":13.74,"d":-0.49},{"x":13.77,"d":-0.45},{"x":13.80,"d":-0.44},{"x":13.83,"d":-0.40},{"x":13.86,"d":-0.38},{"x":13.88,"d":-0.30},{"x":13.90,"d":-0.36},{"x":13.92,"d":-0.34},{"x":13.95,"d":-0.40},{"x":13.98,"d":-0.45},{"x":14.01,"d":-0.48},{"x":14.04,"d":-0.51},{"x":14.07,"d":-0.49},{"x":14.10,"d":-0.53},{"x":14.13,"d":-0.50},{"x":14.16,"d":-0.54},{"x":14.19,"d":-0.51},{"x":14.22,"d":-0.53},{"x":14.25,"d":-0.50},{"x":14.28,"d":-0.54},{"x":14.31,"d":-0.49},{"x":14.34,"d":-0.44},{"x":14.37,"d":-0.52},{"x":14.40,"d":-0.48},{"x":14.43,"d":-0.51},{"x":14.46,"d":-0.47},{"x":14.49,"d":-0.50},{"x":14.52,"d":-0.46},{"x":14.55,"d":-0.53},{"x":14.58,"d":-0.49},{"x":14.61,"d":-0.52},{"x":14.64,"d":-0.48},{"x":14.67,"d":-0.44},{"x":14.70,"d":-0.50},{"x":14.73,"d":-0.45},{"x":14.76,"d":-0.52},{"x":14.79,"d":-0.48},{"x":14.82,"d":-0.51},{"x":14.85,"d":-0.47},{"x":14.88,"d":-0.44},{"x":14.91,"d":-0.50},{"x":14.94,"d":-0.53},{"x":14.97,"d":-0.50},{"x":15.00,"d":-0.55},{"x":15.03,"d":-0.51},{"x":15.06,"d":-0.54},{"x":15.09,"d":-0.50},{"x":15.12,"d":-0.53},{"x":15.15,"d":-0.49},{"x":15.18,"d":-0.52},{"x":15.21,"d":-0.48},{"x":15.24,"d":-0.51},{"x":15.27,"d":-0.46},{"x":15.30,"d":-0.52},{"x":15.33,"d":-0.49}
],
"bragg":[
{"x":3.925},{"x":4.286},{"x":4.737},{"x":5.32},{"x":5.95},{"x":6.28},{"x":6.72},{"x":7.17},{"x":7.55},{"x":7.59},{"x":7.79},{"x":7.81},{"x":7.84},{"x":7.87},{"x":7.89},{"x":7.97},{"x":8.18},{"x":8.57},{"x":8.60},{"x":8.63},{"x":9.155},{"x":9.50},{"x":9.53},{"x":9.71},{"x":9.82},{"x":10.105},{"x":10.135},{"x":10.36},{"x":10.60},{"x":10.63},{"x":10.66},{"x":11.02},{"x":11.15},{"x":11.40},{"x":11.43},{"x":11.76},{"x":11.79},{"x":11.82},{"x":11.85},{"x":11.92},{"x":12.01},{"x":12.10},{"x":12.30},{"x":12.33},{"x":12.36},{"x":12.39},{"x":12.42},{"x":12.59},{"x":12.67},{"x":12.72},{"x":12.76},{"x":12.89},{"x":13.30},{"x":13.33},{"x":13.48},{"x":13.84},{"x":13.87},{"x":13.90},{"x":13.93},{"x":14.24},{"x":14.36},{"x":14.45},{"x":14.57},{"x":14.69},{"x":14.72},{"x":14.93},{"x":15.05},{"x":15.09},{"x":15.12},{"x":15.16},{"x":15.20},{"x":15.23},{"x":15.26},{"x":15.29},{"x":15.32}
]
},
"layer":[
{"data":{"name":"diff"},"mark":{"type":"line","color":"#9c9cff","strokeWidth":2.3},
 "encoding":{
  "x":{"field":"x","type":"quantitative","scale":{"domain":[3,15.334],"nice":false,"zero":false},
   "axis":{"title":"2θ (deg)","values":[3,3.5,4,4.5,5,5.5,6,6.5,7,7.5,8,8.5,9,9.5,10,10.5,11,11.5,12,12.5,13,13.5,14,14.5,15],"labelExpr":"datum.value % 1 === 0 ? datum.label : ''","format":"d","grid":false,"domainColor":"black","domainWidth":3,"tickColor":"black","tickWidth":2,"tickSize":-5,"labelFont":"Liberation Sans","labelFontSize":24,"labelFontWeight":"bold","labelColor":"black","labelPadding":16,"labelFlush":false,"labelOverlap":false,"titleFont":"Liberation Sans","titleFontSize":32,"titleFontWeight":"normal","titleColor":"black","titleX":373,"titleY":69,"titleAlign":"center","titleBaseline":"alphabetic"}},
  "y":{"field":"d","type":"quantitative","scale":{"domain":[-2,10],"nice":false,"zero":false},
   "axis":{"title":"Intensity (arb. u.)","values":[-2,-1,0,1,2,3,4,5,6,7,8,9,10],"labelExpr":"datum.value >= 0 && datum.value % 2 === 0 ? datum.label : ''","format":"d","grid":false,"domainColor":"black","domainWidth":3,"tickColor":"black","tickWidth":2,"tickSize":-5,"labelFont":"Liberation Sans","labelFontSize":24,"labelFontWeight":"bold","labelColor":"black","labelPadding":11,"labelOffset":2,"labelFlush":false,"labelOverlap":false,"titleFont":"Liberation Sans","titleFontSize":32,"titleFontWeight":"normal","titleColor":"black","titleX":-65,"titleY":219,"titleAngle":270,"titleAlign":"center","titleBaseline":"alphabetic"}}
 }},
{"data":{"name":"bragg"},"mark":{"type":"rule","color":"black","strokeWidth":1.6},
 "encoding":{"x":{"field":"x","type":"quantitative","scale":{"domain":[3,15.334],"nice":false,"zero":false}},"y":{"datum":-0.85,"type":"quantitative","scale":{"domain":[-2,10],"nice":false,"zero":false}},"y2":{"datum":-1.18}}},
{"data":{"name":"obs"},"mark":{"type":"line","color":"#00a800","strokeWidth":2.8},
 "encoding":{"x":{"field":"x","type":"quantitative","scale":{"domain":[3,15.334],"nice":false,"zero":false}},"y":{"field":"c","type":"quantitative","scale":{"domain":[-2,10],"nice":false,"zero":false}}}},
{"data":{"name":"obs"},"mark":{"type":"point","shape":"circle","filled":true,"size":22,"fill":"#e63a3f","stroke":"#a00000","strokeWidth":0.8,"opacity":1},
 "encoding":{"x":{"field":"x","type":"quantitative","scale":{"domain":[3,15.334],"nice":false,"zero":false}},"y":{"field":"o","type":"quantitative","scale":{"domain":[-2,10],"nice":false,"zero":false}}}},
{"data":{"values":[{}]},"mark":{"type":"rule","color":"black","strokeWidth":3},
 "encoding":{"y":{"datum":10,"type":"quantitative","scale":{"domain":[-2,10],"nice":false,"zero":false}}}},
{"data":{"values":[{}]},"mark":{"type":"text","text":"Cu","align":"left","baseline":"alphabetic","font":"Liberation Sans","fontSize":26,"fontWeight":"bold","color":"black"},
 "encoding":{"x":{"datum":10.34,"type":"quantitative"},"y":{"datum":8.41,"type":"quantitative"}}},
{"data":{"values":[{}]},"mark":{"type":"text","text":"2","align":"left","baseline":"alphabetic","font":"Liberation Sans","fontSize":17,"fontWeight":"bold","color":"black","dx":35.5,"dy":6},
 "encoding":{"x":{"datum":10.34,"type":"quantitative"},"y":{"datum":8.41,"type":"quantitative"}}},
{"data":{"values":[{}]},"mark":{"type":"text","text":"Cl(OH)","align":"left","baseline":"alphabetic","font":"Liberation Sans","fontSize":26,"fontWeight":"bold","color":"black","dx":45.5},
 "encoding":{"x":{"datum":10.34,"type":"quantitative"},"y":{"datum":8.41,"type":"quantitative"}}},
{"data":{"values":[{}]},"mark":{"type":"text","text":"3","align":"left","baseline":"alphabetic","font":"Liberation Sans","fontSize":17,"fontWeight":"bold","color":"black","dx":128.5,"dy":6},
 "encoding":{"x":{"datum":10.34,"type":"quantitative"},"y":{"datum":8.41,"type":"quantitative"}}},
{"data":{"values":[{}]},"mark":{"type":"text","text":"Pnma,","align":"left","baseline":"alphabetic","font":"Liberation Sans","fontSize":26,"fontWeight":"bold","fontStyle":"italic","color":"black"},
 "encoding":{"x":{"datum":10.34,"type":"quantitative"},"y":{"datum":7.62,"type":"quantitative"}}},
{"data":{"values":[{}]},"mark":{"type":"text","text":"R","align":"left","baseline":"alphabetic","font":"Liberation Sans","fontSize":26,"fontWeight":"bold","fontStyle":"italic","color":"black","dx":85},
 "encoding":{"x":{"datum":10.34,"type":"quantitative"},"y":{"datum":7.62,"type":"quantitative"}}},
{"data":{"values":[{}]},"mark":{"type":"text","text":"Bragg","align":"left","baseline":"alphabetic","font":"Liberation Sans","fontSize":17,"fontWeight":"bold","fontStyle":"italic","color":"black","dx":104,"dy":7},
 "encoding":{"x":{"datum":10.34,"type":"quantitative"},"y":{"datum":7.62,"type":"quantitative"}}},
{"data":{"values":[{}]},"mark":{"type":"text","text":"= 0.06","align":"left","baseline":"alphabetic","font":"Liberation Sans","fontSize":26,"fontWeight":"bold","color":"black","dx":160},
 "encoding":{"x":{"datum":10.34,"type":"quantitative"},"y":{"datum":7.62,"type":"quantitative"}}},
{"data":{"values":[{}]},"mark":{"type":"text","text":"T","align":"left","baseline":"alphabetic","font":"Liberation Sans","fontSize":26,"fontWeight":"bold","fontStyle":"italic","color":"black"},
 "encoding":{"x":{"datum":10.34,"type":"quantitative"},"y":{"datum":6.77,"type":"quantitative"}}},
{"data":{"values":[{}]},"mark":{"type":"text","text":"= 7 K,","align":"left","baseline":"alphabetic","font":"Liberation Sans","fontSize":26,"fontWeight":"bold","color":"black","dx":20},
 "encoding":{"x":{"datum":10.34,"type":"quantitative"},"y":{"datum":6.77,"type":"quantitative"}}},
{"data":{"values":[{}]},"mark":{"type":"text","text":"B","align":"left","baseline":"alphabetic","font":"Liberation Sans","fontSize":26,"fontWeight":"bold","fontStyle":"italic","color":"black","dx":100.5},
 "encoding":{"x":{"datum":10.34,"type":"quantitative"},"y":{"datum":6.77,"type":"quantitative"}}},
{"data":{"values":[{}]},"mark":{"type":"text","text":"= 28 ± 2 T","align":"left","baseline":"alphabetic","font":"Liberation Sans","fontSize":26,"fontWeight":"bold","color":"black","dx":126.5},
 "encoding":{"x":{"datum":10.34,"type":"quantitative"},"y":{"datum":6.77,"type":"quantitative"}}}
]
}
